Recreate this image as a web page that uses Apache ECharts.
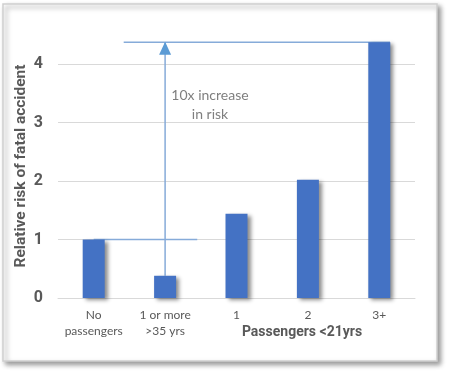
<!DOCTYPE html>
<html><head><meta charset="utf-8">
<script src="https://cdn.jsdelivr.net/npm/echarts@6/dist/echarts.min.js"></script>
<style>html,body{margin:0;padding:0;background:#fff}#c{width:450px;height:373px}</style>
</head><body><div id="c"></div>
<script>
var categories = ['No\npassengers', '1 or more\n>35 yrs', '1', '2', '3+'];
var risk = [1.0, 0.38, 1.44, 2.02, 4.37];
var yTicks = [0, 1, 2, 3, 4];
var yTitle = 'Relative risk of fatal accident';
var xTitle = 'Passengers <21yrs';
var noteText = '10x increase\nin risk';
// annotation lines in hidden value-x units (category i spans i..i+1)
var topLineX = [0.92, 4.65];
var baseLineX = [0.5, 1.95];
var arrowX = 1.5;

var chart = echarts.init(document.getElementById('c'));
var font = 'Lato, "Open Sans", sans-serif';
var bfont = 'Roboto, "Open Sans", sans-serif';
var lineColor = '#86abd9';
chart.setOption({
  animation: false,
  backgroundColor: '#fff',
  grid: {left: 58, right: 35, top: 64, bottom: 75},
  xAxis: [{
    type: 'category', data: categories,
    axisLine: {lineStyle: {color: '#d9d9d9'}}, axisTick: {show: false},
    axisLabel: {interval: 0, color: '#595959', fontFamily: font, fontSize: 12, lineHeight: 16, margin: 9}
  }, {
    type: 'value', min: 0, max: 5, show: false
  }],
  yAxis: {
    type: 'value', min: yTicks[0], max: yTicks[yTicks.length - 1], interval: 1,
    axisLine: {show: false}, axisTick: {show: false},
    splitLine: {lineStyle: {color: '#d9d9d9'}},
    axisLabel: {color: '#595959', fontFamily: bfont, fontSize: 16, fontWeight: 'bold', margin: 15}
  },
  graphic: [{
    type: 'rect', z: -10, shape: {x: 3, y: 4, width: 434, height: 357},
    style: {fill: '#fff', stroke: '#cfcfcf', lineWidth: 1.5,
      shadowColor: 'rgba(0,0,0,0.4)', shadowBlur: 5, shadowOffsetX: 3, shadowOffsetY: 3}
  }, {
    type: 'text', x: 21, y: 166, rotation: Math.PI / 2,
    style: {text: yTitle, fill: '#595959', font: 'bold 15.5px ' + bfont, align: 'center', verticalAlign: 'middle'}
  }, {
    type: 'text', x: 302, y: 332,
    style: {text: xTitle, fill: '#595959', font: 'bold 14px ' + bfont, align: 'center', verticalAlign: 'middle'}
  }, {
    type: 'text', x: 210, y: 105,
    style: {text: noteText, fill: '#7f7f7f', font: '14px ' + font, align: 'center', verticalAlign: 'middle', lineHeight: 19}
  }],
  series: [{
    type: 'line', xAxisIndex: 1, clip: false, symbol: 'none', z: 1,
    lineStyle: {color: lineColor, width: 1.5},
    data: [[topLineX[0], risk[4]], [topLineX[1], risk[4]]]
  }, {
    type: 'line', xAxisIndex: 1, clip: false, symbol: 'none', z: 1,
    lineStyle: {color: lineColor, width: 1.5},
    data: [[baseLineX[0], risk[0]], [baseLineX[1], risk[0]]]
  }, {
    type: 'line', xAxisIndex: 1, clip: false, z: 1,
    lineStyle: {color: lineColor, width: 1.5},
    data: [
      {value: [arrowX, risk[1]], symbol: 'none'},
      {value: [arrowX, risk[4]], symbol: 'triangle', symbolSize: [12, 13], symbolOffset: [0, 6],
        itemStyle: {color: '#5b9bd5', borderWidth: 0}}
    ]
  }, {
    type: 'bar', data: risk, barWidth: 22, clip: false, z: 3,
    itemStyle: {color: '#4472c4', shadowColor: 'rgba(0,0,0,0.45)', shadowBlur: 4, shadowOffsetX: 3, shadowOffsetY: 2}
  }]
});
</script></body></html>
